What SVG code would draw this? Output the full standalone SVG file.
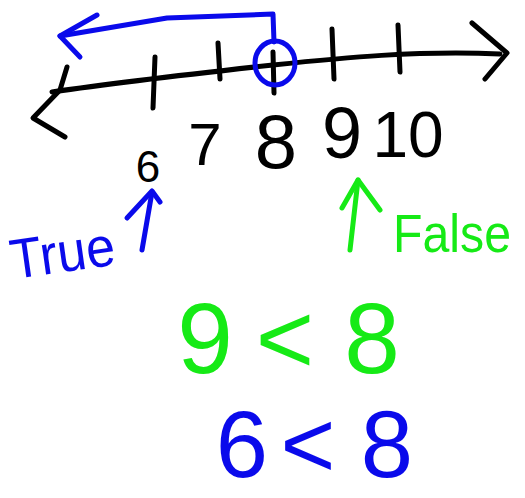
<svg xmlns="http://www.w3.org/2000/svg" width="525" height="498" viewBox="0 0 525 498">
<style>
.ink{fill:none;stroke-width:5;stroke-linecap:round;stroke-linejoin:round}
.k{stroke:#000}
.b{stroke:#0a0aeb}
.g{stroke:#16ea16}
.t{font-family:"Liberation Sans",Arial,sans-serif;text-anchor:middle}
.tk{fill:#000}
.tb{fill:#0a0aeb}
.tg{fill:#16ea16}
</style>
<rect width="525" height="498" fill="#fff"/>
<g id="number-line">
<path class="ink k" d="M52,92 C120,82 200,73 273,65 C340,58 420,50 500,54"/>
<path class="ink k" d="M67,67 L60,90 L33,118 L65,137"/>
<path class="ink k" d="M472,23 L507,53 L485,79"/>
<path class="ink k" d="M155,57 L153,108"/>
<path class="ink k" d="M218,43 L220,79"/>
<path class="ink k" d="M273,52 L274,93"/>
<path class="ink k" d="M332,29 L334,79"/>
<path class="ink k" d="M398,25 L400,72"/>
</g>
<g id="labels">
<text class="t tk" x="148" y="182" font-size="44">6</text>
<text class="t tk" x="205" y="165" font-size="60">7</text>
<text class="t tk" x="276" y="168" font-size="76">8</text>
<text class="t tk" x="342" y="158" font-size="72">9</text>
<text class="t tk" x="408" y="157" font-size="64">10</text>
</g>
<g id="solution-arrow">
<ellipse class="ink b" cx="275" cy="63" rx="20" ry="22"/>
<path class="ink b" d="M274,42 L273,14 L167,18 L60,36"/>
<path class="ink b" d="M97,15 L60,36 L80,57"/>
</g>
<g id="true-mark">
<path class="ink b" d="M142,250 L152,192"/>
<path class="ink b" d="M127,218 L152,191 L160,202"/>
<text class="t tb" x="62" y="272" font-size="56" textLength="105" lengthAdjust="spacingAndGlyphs" transform="rotate(-8 62 250)">True</text>
</g>
<g id="false-mark">
<path class="ink g" d="M350,250 L358,180"/>
<path class="ink g" d="M342,208 L358,180 L380,210"/>
<text class="t tg" x="452" y="252" font-size="54" textLength="118" lengthAdjust="spacingAndGlyphs">False</text>
</g>
<g id="green-inequality">
<text class="t tg" y="373" font-size="100"><tspan x="205">9</tspan><tspan x="285">&lt;</tspan><tspan x="372">8</tspan></text>
</g>
<g id="blue-inequality">
<text class="t tb" y="477" font-size="94"><tspan x="242">6</tspan><tspan x="308">&lt;</tspan><tspan x="387">8</tspan></text>
</g>
</svg>
